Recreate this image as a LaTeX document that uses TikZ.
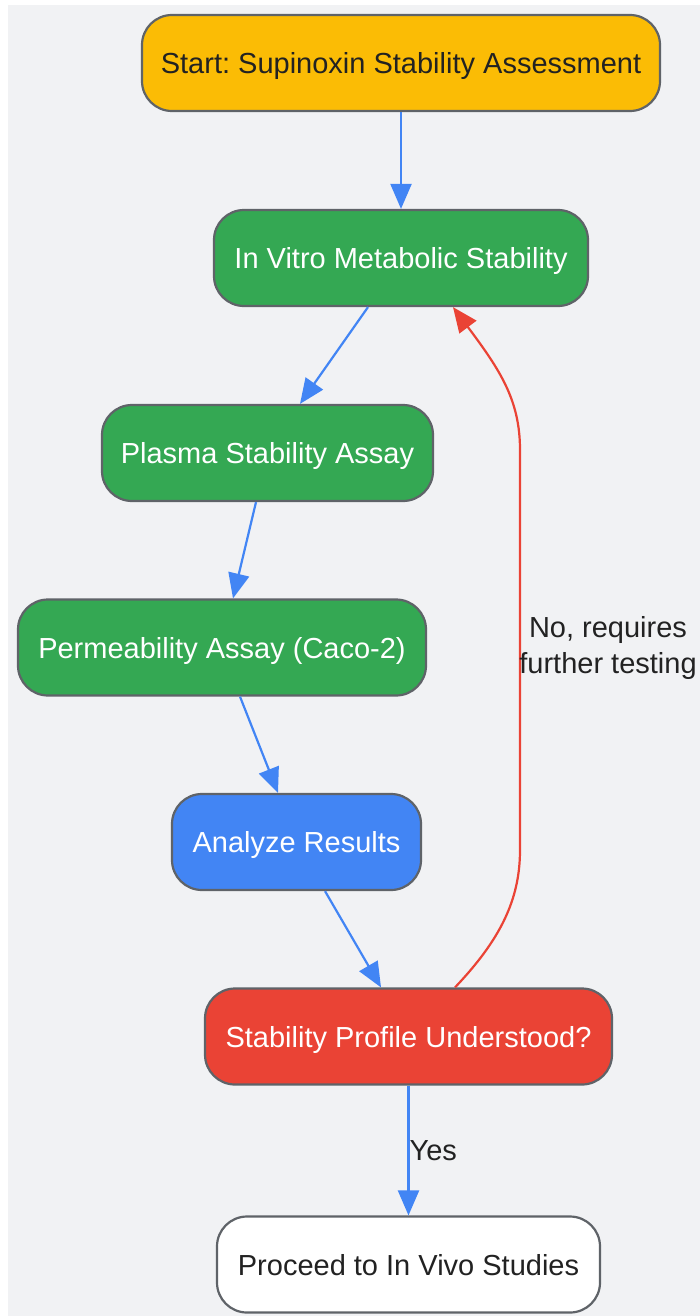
\documentclass[tikz,border=0pt]{standalone}
\usepackage{fontspec}
\setmainfont{Liberation Sans}
\frenchspacing
\usetikzlibrary{arrows.meta,positioning}
\definecolor{bg}{HTML}{F1F2F4}
\definecolor{bordc}{HTML}{5F6368}
\definecolor{cyel}{HTML}{FBBC05}
\definecolor{cgreen}{HTML}{34A853}
\definecolor{cblue}{HTML}{4285F4}
\definecolor{cred}{HTML}{EA4335}
\definecolor{txt}{HTML}{222222}
\tikzset{
  box/.style={draw=bordc, line width=2.2pt, rounded corners=30pt, minimum height=96pt, inner sep=0pt, text height=21pt, text depth=0pt, font=\frenchspacing\fontsize{29}{36}\selectfont},
  lightbox/.style={box, text=txt},
  darkbox/.style={box, text=white},
  flow/.style={draw=cblue, line width=2.2pt, -{Triangle[length=25pt,width=21pt]}},
  back/.style={draw=cred, line width=2.2pt, -{Triangle[length=25pt,width=21pt]}},
  lbl/.style={text=txt, font=\frenchspacing\fontsize{29}{36}\selectfont, align=center, inner sep=0pt}
}
\begin{document}
\begin{tikzpicture}[x=1pt,y=-1pt]
\useasboundingbox (0,0) rectangle (700,1316);
\fill[white] (0,0) rectangle (700,1316);
\fill[bg] (8,5) rectangle (700,1316);
\node[lightbox, fill=cyel, minimum width=518pt] (start) at (401,63) {Start: Supinoxin Stability Assessment};
\node[darkbox, fill=cgreen, minimum width=374pt] (iv) at (401,258) {In Vitro Metabolic Stability};
\node[darkbox, fill=cgreen, minimum width=331pt] (pl) at (267.5,453) {Plasma Stability Assay};
\node[darkbox, fill=cgreen, minimum width=408pt] (perm) at (222,647.5) {Permeability Assay (Caco-2)};
\node[darkbox, fill=cblue, minimum width=249pt] (an) at (296.5,842) {Analyze Results};
\node[darkbox, fill=cred, minimum width=407pt] (st) at (408.5,1036.5) {Stability Profile Understood?};
\node[lightbox, fill=white, minimum width=383pt] (pr) at (408.5,1264.5) {Proceed to In Vivo Studies};
\draw[flow] (start.south) -- (iv.north);
\draw[flow] ([xshift=-33pt]iv.south) -- ([xshift=32.5pt]pl.north);
\draw[flow] ([xshift=-11.5pt]pl.south) -- ([xshift=11pt]perm.north);
\draw[flow] ([xshift=18pt]perm.south) -- ([xshift=-18.5pt]an.north);
\draw[flow] ([xshift=28.5pt]an.south) -- ([xshift=-27.5pt]st.north);
\draw[flow] (st.south) -- node[lbl, right=0pt, pos=0.5] (yes) {Yes} (pr.north);
\draw[back] ([xshift=46.5pt]st.north) .. controls (500,940) and (520,900) .. (520,850) -- (520,450) .. controls (520,400) and (500,370) .. ([xshift=52pt]iv.south);
\node[lbl] (no) at (608,648) {No, requires\\further testing};
\end{tikzpicture}
\end{document}
